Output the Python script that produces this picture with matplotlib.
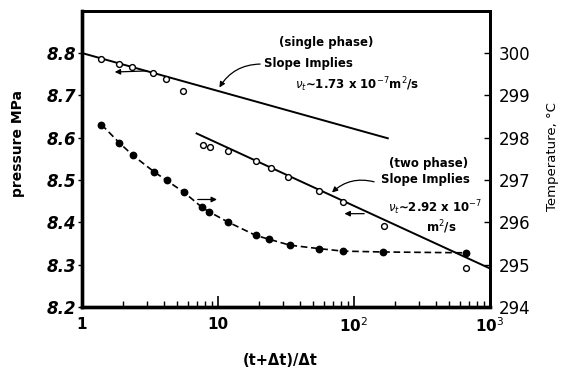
import numpy as np
import matplotlib
matplotlib.use("Agg")
import matplotlib.pyplot as plt
from matplotlib.ticker import FixedLocator, LogLocator, NullFormatter

# ---- data ----
# single-phase pressure points (open circles)
x_single = [1.37, 1.87, 2.34, 3.34, 4.12, 5.56]
p_single = [8.785, 8.773, 8.766, 8.752, 8.739, 8.711]

# two-phase pressure points (open circles)
x_two = [7.72, 8.73, 11.8, 19.0, 24.5, 32.5, 55.6, 82.6, 165.0, 662.0]
p_two = [8.583, 8.579, 8.568, 8.544, 8.529, 8.507, 8.475, 8.448, 8.391, 8.292]

# temperature points (filled circles)
x_temp = [1.39, 1.88, 2.37, 3.37, 4.19, 5.62, 7.59, 8.6, 11.8, 19.0, 23.8, 33.8,
          55.0, 83.0, 164.0, 662.0]
t_temp = [298.31, 297.88, 297.58, 297.20, 296.99, 296.71, 296.36, 296.25, 296.01,
          295.69, 295.60, 295.46, 295.38, 295.32, 295.30, 295.28]

# fitted semilog lines: (x_start, x_end, p_start, p_end)
fit_single = [1.0, 180.0, 8.800, 8.598]
fit_two = [6.86, 1000.0, 8.611, 8.291]

p_ticks = [8.2, 8.3, 8.4, 8.5, 8.6, 8.7, 8.8]
p_ticklabels = ["8.2", "8.3", "8.4", "8.5", "8.6", "8.7", "8.8"]
t_ticks = [294, 295, 296, 297, 298, 299, 300]
t_ticklabels = ["294", "295", "296", "297", "298", "299", "300"]
x_ticks = [1, 10, 100, 1000]
x_ticklabels = ["1", "10", "10$^2$", "10$^3$"]

plt.rcParams["font.family"] = ["DejaVu Sans"]

fig = plt.figure(figsize=(5.61, 3.70), dpi=100)
ax = fig.add_axes([0.1462, 0.1703, 0.7272, 0.8007])
ax.set_xscale("log")
ax.set_xlim(1, 1000)
ax.set_ylim(8.2, 8.9)

# fitted lines
ax.plot(fit_single[:2], fit_single[2:], color="black", lw=1.4, solid_capstyle="butt")
ax.plot(fit_two[:2], fit_two[2:], color="black", lw=1.4, solid_capstyle="butt")

# pressure data
ax.plot(x_single, p_single, "o", ms=4.2, mfc="white", mec="black", mew=1.0, zorder=4)
ax.plot(x_two, p_two, "o", ms=4.2, mfc="white", mec="black", mew=1.0, zorder=4)

# temperature on the twin axis
ax2 = ax.twinx()
ax2.set_ylim(294, 301)
ax2.plot(x_temp, t_temp, color="black", lw=1.2, ls=(0, (4, 2.2)),
         marker="o", ms=4.6, mfc="black", mec="black", zorder=4)

# spines
for a in (ax, ax2):
    a.spines["left"].set_linewidth(2.4)
    a.spines["bottom"].set_linewidth(2.4)
    a.spines["top"].set_linewidth(2.0)
    a.spines["right"].set_linewidth(2.0)

# ticks
ax.xaxis.set_major_locator(FixedLocator(x_ticks))
ax.set_xticklabels(x_ticklabels, fontsize=11, fontweight="bold")
ax.xaxis.set_minor_locator(LogLocator(base=10, subs=np.arange(2, 10)))
ax.xaxis.set_minor_formatter(NullFormatter())
ax.tick_params(axis="x", which="major", direction="in", length=8, width=1.2, pad=7)
ax.tick_params(axis="x", which="minor", direction="in", length=4, width=1.0)

ax.set_yticks(p_ticks)
ax.set_yticklabels(p_ticklabels, fontsize=12, fontweight="bold", style="italic")
ax.tick_params(axis="y", which="major", direction="out", length=3, width=1.0, pad=1)

ax2.set_yticks(t_ticks)
ax2.set_yticklabels(t_ticklabels, fontsize=12)
ax2.tick_params(axis="y", which="major", direction="in", length=4, width=1.0, pad=6)

# axis labels
fig.text(0.032, 0.612, "pressure MPa", rotation=90, ha="center", va="center",
         fontsize=10, fontweight="bold")
fig.text(0.984, 0.576, "Temperature, °C", rotation=90, ha="center", va="center",
         fontsize=9.5)
fig.text(0.499, 0.027, "(t+Δt)/Δt", ha="center", va="center",
         fontsize=10.5, fontweight="bold")

# annotations
tkw = dict(transform=ax.transAxes, ha="center", va="center", fontsize=8.5,
           fontweight="bold")
ax.text(0.599, 0.894, "(single phase)", **tkw)
ax.text(0.556, 0.823, "Slope Implies", **tkw)
ax.text(0.675, 0.749, r"$\nu_t$∼1.73 x 10$^{-7}$m$^2$/s", **tkw)
ax.text(0.850, 0.486, "(two phase)", **tkw)
ax.text(0.841, 0.429, "Slope Implies", **tkw)
ax.text(0.866, 0.334, r"$\nu_t$∼2.92 x 10$^{-7}$", **tkw)
ax.text(0.881, 0.270, "m$^2$/s", **tkw)

akw = dict(arrowstyle="-|>", color="black", lw=0.9, mutation_scale=8)
# curved pointers from the slope notes to the fitted lines
ax.annotate("", xy=(10.0, 8.713), xytext=(21.4, 8.774),
            arrowprops=dict(connectionstyle="arc3,rad=0.3", **akw))
ax.annotate("", xy=(66.6, 8.466), xytext=(147.0, 8.494),
            arrowprops=dict(connectionstyle="arc3,rad=0.3", **akw))
# straight arrows pointing to the axis each data set belongs to
ax.annotate("", xy=(1.66, 8.755), xytext=(3.16, 8.758),
            arrowprops=dict(connectionstyle="arc3,rad=0", **akw))
ax.annotate("", xy=(10.3, 8.454), xytext=(6.77, 8.454),
            arrowprops=dict(connectionstyle="arc3,rad=0", **akw))
ax.annotate("", xy=(81.2, 8.4205), xytext=(124.6, 8.4205),
            arrowprops=dict(connectionstyle="arc3,rad=0", **akw))

fig.savefig("out.png", dpi=100)
